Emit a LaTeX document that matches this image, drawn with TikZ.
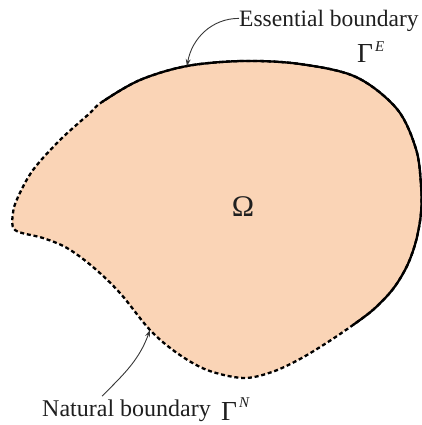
\documentclass[tikz,border=0pt]{standalone}
\usepackage{fontspec}
\setmainfont{Liberation Serif}
\usetikzlibrary{arrows.meta}
\definecolor{peach}{RGB}{250,212,182}
\definecolor{inkgray}{RGB}{55,55,55}
\begin{document}
\begin{tikzpicture}[x=1pt,y=1pt,>={Stealth[length=7pt,width=5pt]},
  lbl/.style={inner sep=0pt,font=\fontsize{23.5}{28}\selectfont,text=black!88},
  gam/.style={inner sep=0pt,font=\fontsize{27.5}{30}\selectfont,text=black!88},
  pointer/.style={->,line width=0.9pt,inkgray},
  rim/.style={line width=2.3pt,line join=round}]
\useasboundingbox (0,0) rectangle (422,425);

\path[save path=\domain] plot[smooth cycle, tension=0.55] coordinates {
  (102,323) (140,345) (187,359) (243,364) (300,361) (356,348) (397,316)
  (416,276) (421,240) (421,212) (416,184) (407,159) (393,136) (374,116)
  (353,100) (328,83) (300,66) (272,53) (243,47) (207,55) (177,72)
  (150,95) (120,132) (93,158) (67,177) (43,187) (15,195) (13,212)
  (18,228) (33,255) (60,285) (90,312)};
\fill[peach, use path=\domain];
\draw[rim, dash pattern=on 4pt off 2.8pt, use path=\domain];
\begin{scope}
  \clip (102,323) -- (353,100) -- (604,-123) -- (700,700) -- (-149,546) -- cycle;
  \draw[rim, use path=\domain];
\end{scope}

\coordinate (ess) at (187,359);
\coordinate (nat) at (150,95);

\node[lbl,anchor=base west] (ess-label) at (239,398) {Essential boundary};
\node[gam,anchor=base west] (gam-e) at (357,362) {Γ\kern2pt\raisebox{11pt}{\fontsize{15}{18}\selectfont\itshape E}};
\node[lbl,anchor=base west,font=\fontsize{24}{28}\selectfont] (nat-label) at (42,9) {Natural boundary};
\node[gam,anchor=base west] (gam-n) at (221,5) {Γ\kern2pt\raisebox{13pt}{\fontsize{15}{18}\selectfont\itshape N}};
\node[font=\fontsize{30}{32}\selectfont,text=black!88] (omega) at (243,218) {Ω};

\draw[pointer] ([yshift=3pt]ess-label.west) to[out=180,in=80] (ess);
\draw[pointer] ([xshift=60pt,yshift=3pt]nat-label.north west) to[out=45,in=250] (nat);
\end{tikzpicture}
\end{document}
